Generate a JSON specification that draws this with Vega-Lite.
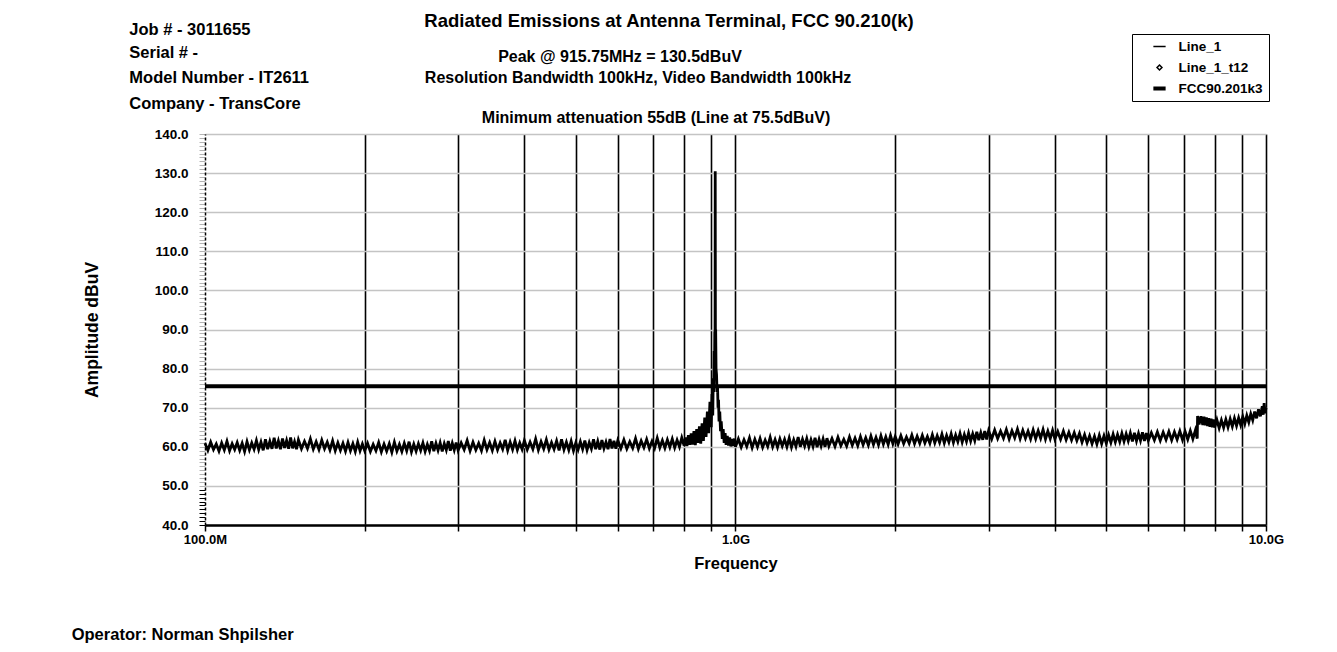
{
  "$schema": "https://vega.github.io/schema/vega-lite/v6.json",
  "width": 1061,
  "height": 391,
  "autosize": {"type": "none"},
  "padding": {"left": 205, "top": 134, "right": 71, "bottom": 127},
  "background": "white",
  "config": {"font": "Liberation Sans", "view": {"stroke": null}},
  "layer": [
    {
      "data": {"values": [
        {"MHz":100,"dBuV":60.9},{"MHz":101.25,"dBuV":59.1},{"MHz":102.5,"dBuV":61.2},{"MHz":103.75,"dBuV":59.3},{"MHz":105,"dBuV":60.7},{"MHz":106.25,"dBuV":58.9},{"MHz":107.5,"dBuV":61.0},{"MHz":108.75,"dBuV":59.2},{"MHz":110,"dBuV":61.4},{"MHz":111.25,"dBuV":59.0},
        {"MHz":112.5,"dBuV":60.8},{"MHz":113.75,"dBuV":59.3},{"MHz":115,"dBuV":61.1},{"MHz":116.25,"dBuV":59.1},{"MHz":117.5,"dBuV":60.9},{"MHz":118.75,"dBuV":58.8},{"MHz":120,"dBuV":61.3},{"MHz":121.25,"dBuV":59.2},{"MHz":122.5,"dBuV":61.0},{"MHz":123.75,"dBuV":59.4},
        {"MHz":125,"dBuV":61.6},{"MHz":126.25,"dBuV":59.3},{"MHz":127.5,"dBuV":61.2},{"MHz":128.75,"dBuV":59.1},{"MHz":130,"dBuV":61.9},{"MHz":131.25,"dBuV":59.4},{"MHz":132.5,"dBuV":61.4},{"MHz":133.75,"dBuV":59.5},{"MHz":135,"dBuV":62.3},{"MHz":136.25,"dBuV":59.6},
        {"MHz":137.5,"dBuV":61.5},{"MHz":138.75,"dBuV":59.4},{"MHz":140,"dBuV":62.1},{"MHz":141.25,"dBuV":59.7},{"MHz":142.5,"dBuV":61.6},{"MHz":143.75,"dBuV":59.5},{"MHz":145,"dBuV":62.4},{"MHz":146.25,"dBuV":59.6},{"MHz":147.5,"dBuV":61.3},{"MHz":148.75,"dBuV":59.4},
        {"MHz":150,"dBuV":61.8},{"MHz":152,"dBuV":59.5},{"MHz":154,"dBuV":61.4},{"MHz":156,"dBuV":59.6},{"MHz":158,"dBuV":62.0},{"MHz":160,"dBuV":59.4},{"MHz":162,"dBuV":61.3},{"MHz":164,"dBuV":59.3},{"MHz":166,"dBuV":61.7},{"MHz":168,"dBuV":59.5},
        {"MHz":170,"dBuV":61.2},{"MHz":172,"dBuV":59.2},{"MHz":174,"dBuV":61.5},{"MHz":176,"dBuV":59.0},{"MHz":178,"dBuV":61.0},{"MHz":180,"dBuV":59.1},{"MHz":182,"dBuV":60.9},{"MHz":184,"dBuV":58.9},{"MHz":186,"dBuV":61.1},{"MHz":188,"dBuV":59.0},
        {"MHz":190,"dBuV":60.8},{"MHz":192,"dBuV":58.8},{"MHz":194,"dBuV":61.2},{"MHz":196,"dBuV":59.0},{"MHz":198,"dBuV":60.7},
        {"MHz":200,"dBuV":59.0},{"MHz":202.5,"dBuV":60.9},{"MHz":205,"dBuV":58.8},{"MHz":207.5,"dBuV":60.6},{"MHz":210,"dBuV":59.0},{"MHz":212.5,"dBuV":61.1},{"MHz":215,"dBuV":58.7},{"MHz":217.5,"dBuV":60.7},{"MHz":220,"dBuV":58.9},{"MHz":222.5,"dBuV":60.8},
        {"MHz":225,"dBuV":58.6},{"MHz":227.5,"dBuV":61.2},{"MHz":230,"dBuV":58.9},{"MHz":232.5,"dBuV":60.6},{"MHz":235,"dBuV":58.8},{"MHz":237.5,"dBuV":60.9},{"MHz":240,"dBuV":59.0},{"MHz":242.5,"dBuV":61.3},{"MHz":245,"dBuV":58.7},{"MHz":247.5,"dBuV":60.7},
        {"MHz":250,"dBuV":58.9},{"MHz":252.5,"dBuV":60.8},{"MHz":255,"dBuV":59.1},{"MHz":257.5,"dBuV":61.0},{"MHz":260,"dBuV":58.8},{"MHz":262.5,"dBuV":60.6},{"MHz":265,"dBuV":59.0},{"MHz":267.5,"dBuV":61.4},{"MHz":270,"dBuV":58.9},{"MHz":272.5,"dBuV":60.9},
        {"MHz":275,"dBuV":59.1},{"MHz":277.5,"dBuV":61.0},{"MHz":280,"dBuV":58.8},{"MHz":282.5,"dBuV":60.8},{"MHz":285,"dBuV":59.2},{"MHz":287.5,"dBuV":61.5},{"MHz":290,"dBuV":59.0},{"MHz":292.5,"dBuV":60.9},{"MHz":295,"dBuV":59.2},{"MHz":297.5,"dBuV":61.1},
        {"MHz":300,"dBuV":59.1},{"MHz":304,"dBuV":61.0},{"MHz":308,"dBuV":59.3},{"MHz":312,"dBuV":61.6},{"MHz":316,"dBuV":59.0},{"MHz":320,"dBuV":61.2},{"MHz":324,"dBuV":59.2},{"MHz":328,"dBuV":60.9},{"MHz":332,"dBuV":59.0},{"MHz":336,"dBuV":61.7},
        {"MHz":340,"dBuV":59.3},{"MHz":344,"dBuV":61.1},{"MHz":348,"dBuV":59.1},{"MHz":352,"dBuV":61.4},{"MHz":356,"dBuV":59.2},{"MHz":360,"dBuV":61.0},{"MHz":364,"dBuV":59.4},{"MHz":368,"dBuV":61.8},{"MHz":372,"dBuV":59.1},{"MHz":376,"dBuV":61.2},
        {"MHz":380,"dBuV":59.3},{"MHz":384,"dBuV":61.5},{"MHz":388,"dBuV":59.2},{"MHz":392,"dBuV":61.0},{"MHz":396,"dBuV":59.4},
        {"MHz":400,"dBuV":61.6},{"MHz":405,"dBuV":59.3},{"MHz":410,"dBuV":61.2},{"MHz":415,"dBuV":59.4},{"MHz":420,"dBuV":62.0},{"MHz":425,"dBuV":59.2},{"MHz":430,"dBuV":61.3},{"MHz":435,"dBuV":59.5},{"MHz":440,"dBuV":61.8},{"MHz":445,"dBuV":59.3},
        {"MHz":450,"dBuV":61.1},{"MHz":455,"dBuV":59.4},{"MHz":460,"dBuV":61.5},{"MHz":465,"dBuV":59.1},{"MHz":470,"dBuV":61.9},{"MHz":475,"dBuV":59.3},{"MHz":480,"dBuV":61.2},{"MHz":485,"dBuV":59.2},{"MHz":490,"dBuV":61.4},{"MHz":495,"dBuV":59.0},
        {"MHz":500,"dBuV":61.0},{"MHz":505,"dBuV":59.3},{"MHz":510,"dBuV":61.3},{"MHz":515,"dBuV":59.4},{"MHz":520,"dBuV":61.6},{"MHz":525,"dBuV":59.2},{"MHz":530,"dBuV":61.1},{"MHz":535,"dBuV":59.5},{"MHz":540,"dBuV":61.9},{"MHz":545,"dBuV":59.4},
        {"MHz":550,"dBuV":61.4},{"MHz":555,"dBuV":59.3},{"MHz":560,"dBuV":61.7},{"MHz":565,"dBuV":59.6},{"MHz":570,"dBuV":61.2},{"MHz":575,"dBuV":59.4},{"MHz":580,"dBuV":62.0},{"MHz":585,"dBuV":59.6},{"MHz":590,"dBuV":61.5},{"MHz":595,"dBuV":59.5},
        {"MHz":600,"dBuV":61.6},{"MHz":608,"dBuV":59.6},{"MHz":616,"dBuV":61.8},{"MHz":624,"dBuV":59.5},{"MHz":632,"dBuV":61.3},{"MHz":640,"dBuV":59.7},{"MHz":648,"dBuV":62.1},{"MHz":656,"dBuV":59.5},{"MHz":664,"dBuV":61.5},{"MHz":672,"dBuV":59.8},
        {"MHz":680,"dBuV":61.9},{"MHz":688,"dBuV":59.6},{"MHz":696,"dBuV":61.4},{"MHz":704,"dBuV":59.7},{"MHz":712,"dBuV":62.2},{"MHz":720,"dBuV":59.8},{"MHz":728,"dBuV":61.6},{"MHz":736,"dBuV":59.7},{"MHz":744,"dBuV":61.8},{"MHz":752,"dBuV":59.9},
        {"MHz":760,"dBuV":62.0},{"MHz":768,"dBuV":59.8},{"MHz":776,"dBuV":61.7},{"MHz":784,"dBuV":60.0},{"MHz":792,"dBuV":62.3},
        {"MHz":800,"dBuV":60.3},{"MHz":805,"dBuV":62.4},{"MHz":810,"dBuV":60.2},{"MHz":815,"dBuV":63.0},{"MHz":820,"dBuV":60.5},{"MHz":825,"dBuV":63.4},{"MHz":830,"dBuV":60.6},{"MHz":835,"dBuV":64.0},{"MHz":840,"dBuV":60.4},{"MHz":845,"dBuV":64.5},
        {"MHz":850,"dBuV":61.0},{"MHz":855,"dBuV":65.2},{"MHz":860,"dBuV":60.8},{"MHz":865,"dBuV":66.0},{"MHz":870,"dBuV":61.5},{"MHz":875,"dBuV":67.5},{"MHz":880,"dBuV":62.5},{"MHz":885,"dBuV":69.0},{"MHz":890,"dBuV":63.5},{"MHz":895,"dBuV":71.5},
        {"MHz":900,"dBuV":65.0},{"MHz":903,"dBuV":73.5},{"MHz":906,"dBuV":68.0},{"MHz":908,"dBuV":77.5},{"MHz":910,"dBuV":74.0},{"MHz":911.5,"dBuV":84.5},{"MHz":913,"dBuV":79.0},{"MHz":914,"dBuV":89.5},{"MHz":915,"dBuV":84.0},{"MHz":915.75,"dBuV":130.5},
        {"MHz":916.5,"dBuV":86.0},{"MHz":917.5,"dBuV":90.0},{"MHz":919,"dBuV":80.0},{"MHz":921,"dBuV":78.5},{"MHz":923,"dBuV":74.0},{"MHz":925,"dBuV":75.5},{"MHz":927,"dBuV":70.0},{"MHz":929,"dBuV":72.0},{"MHz":931,"dBuV":66.5},{"MHz":934,"dBuV":69.0},
        {"MHz":937,"dBuV":64.0},{"MHz":940,"dBuV":66.5},{"MHz":944,"dBuV":62.0},{"MHz":948,"dBuV":64.5},{"MHz":952,"dBuV":61.0},{"MHz":956,"dBuV":63.5},{"MHz":960,"dBuV":60.5},{"MHz":965,"dBuV":62.8},{"MHz":970,"dBuV":60.3},{"MHz":975,"dBuV":62.4},
        {"MHz":980,"dBuV":60.1},{"MHz":985,"dBuV":62.0},{"MHz":990,"dBuV":60.2},{"MHz":995,"dBuV":62.1},
        {"MHz":1000,"dBuV":60.0},{"MHz":1012.5,"dBuV":62.0},{"MHz":1025,"dBuV":59.9},{"MHz":1037.5,"dBuV":61.8},{"MHz":1050,"dBuV":60.1},{"MHz":1062.5,"dBuV":62.3},{"MHz":1075,"dBuV":59.8},{"MHz":1087.5,"dBuV":61.9},{"MHz":1100,"dBuV":60.0},{"MHz":1112.5,"dBuV":62.1},
        {"MHz":1125,"dBuV":59.9},{"MHz":1137.5,"dBuV":61.7},{"MHz":1150,"dBuV":60.1},{"MHz":1162.5,"dBuV":62.4},{"MHz":1175,"dBuV":60.0},{"MHz":1187.5,"dBuV":61.8},{"MHz":1200,"dBuV":59.9},{"MHz":1212.5,"dBuV":62.0},{"MHz":1225,"dBuV":60.2},{"MHz":1237.5,"dBuV":61.9},
        {"MHz":1250,"dBuV":60.0},{"MHz":1262.5,"dBuV":62.2},{"MHz":1275,"dBuV":59.9},{"MHz":1287.5,"dBuV":61.8},{"MHz":1300,"dBuV":60.1},{"MHz":1312.5,"dBuV":62.5},{"MHz":1325,"dBuV":60.0},{"MHz":1337.5,"dBuV":61.9},{"MHz":1350,"dBuV":60.2},{"MHz":1362.5,"dBuV":62.1},
        {"MHz":1375,"dBuV":60.0},{"MHz":1387.5,"dBuV":61.8},{"MHz":1400,"dBuV":60.1},{"MHz":1412.5,"dBuV":62.3},{"MHz":1425,"dBuV":59.9},{"MHz":1437.5,"dBuV":61.9},{"MHz":1450,"dBuV":60.2},{"MHz":1462.5,"dBuV":62.0},{"MHz":1475,"dBuV":60.0},{"MHz":1487.5,"dBuV":62.2},
        {"MHz":1500,"dBuV":60.2},{"MHz":1520,"dBuV":62.1},{"MHz":1540,"dBuV":60.1},{"MHz":1560,"dBuV":62.4},{"MHz":1580,"dBuV":60.3},{"MHz":1600,"dBuV":61.9},{"MHz":1620,"dBuV":60.2},{"MHz":1640,"dBuV":62.5},{"MHz":1660,"dBuV":60.4},{"MHz":1680,"dBuV":62.2},
        {"MHz":1700,"dBuV":60.3},{"MHz":1720,"dBuV":62.6},{"MHz":1740,"dBuV":60.5},{"MHz":1760,"dBuV":62.3},{"MHz":1780,"dBuV":60.4},{"MHz":1800,"dBuV":62.7},{"MHz":1820,"dBuV":60.6},{"MHz":1840,"dBuV":62.4},{"MHz":1860,"dBuV":60.5},{"MHz":1880,"dBuV":62.8},
        {"MHz":1900,"dBuV":60.7},{"MHz":1920,"dBuV":62.5},{"MHz":1940,"dBuV":60.6},{"MHz":1960,"dBuV":62.9},{"MHz":1980,"dBuV":60.8},
        {"MHz":2000,"dBuV":62.6},{"MHz":2025,"dBuV":60.7},{"MHz":2050,"dBuV":62.8},{"MHz":2075,"dBuV":60.8},{"MHz":2100,"dBuV":62.5},{"MHz":2125,"dBuV":60.9},{"MHz":2150,"dBuV":63.0},{"MHz":2175,"dBuV":60.8},{"MHz":2200,"dBuV":62.7},{"MHz":2225,"dBuV":60.9},
        {"MHz":2250,"dBuV":62.9},{"MHz":2275,"dBuV":61.0},{"MHz":2300,"dBuV":62.6},{"MHz":2325,"dBuV":60.9},{"MHz":2350,"dBuV":63.1},{"MHz":2375,"dBuV":61.0},{"MHz":2400,"dBuV":62.8},{"MHz":2425,"dBuV":61.1},{"MHz":2450,"dBuV":63.2},{"MHz":2475,"dBuV":61.0},
        {"MHz":2500,"dBuV":62.9},{"MHz":2525,"dBuV":61.2},{"MHz":2550,"dBuV":63.3},{"MHz":2575,"dBuV":61.1},{"MHz":2600,"dBuV":63.0},{"MHz":2625,"dBuV":61.3},{"MHz":2650,"dBuV":63.4},{"MHz":2675,"dBuV":61.2},{"MHz":2700,"dBuV":63.1},{"MHz":2725,"dBuV":61.4},
        {"MHz":2750,"dBuV":63.5},{"MHz":2775,"dBuV":61.5},{"MHz":2800,"dBuV":63.3},{"MHz":2825,"dBuV":61.6},{"MHz":2850,"dBuV":63.8},{"MHz":2875,"dBuV":61.7},{"MHz":2900,"dBuV":63.6},{"MHz":2925,"dBuV":61.8},{"MHz":2950,"dBuV":64.0},{"MHz":2975,"dBuV":61.9},
        {"MHz":3000,"dBuV":64.1},{"MHz":3040,"dBuV":62.0},{"MHz":3080,"dBuV":64.3},{"MHz":3120,"dBuV":62.1},{"MHz":3160,"dBuV":64.0},{"MHz":3200,"dBuV":62.2},{"MHz":3240,"dBuV":64.4},{"MHz":3280,"dBuV":62.0},{"MHz":3320,"dBuV":64.1},{"MHz":3360,"dBuV":62.3},
        {"MHz":3400,"dBuV":64.5},{"MHz":3440,"dBuV":62.1},{"MHz":3480,"dBuV":64.2},{"MHz":3520,"dBuV":62.2},{"MHz":3560,"dBuV":64.0},{"MHz":3600,"dBuV":62.0},{"MHz":3640,"dBuV":64.3},{"MHz":3680,"dBuV":62.1},{"MHz":3720,"dBuV":64.1},{"MHz":3760,"dBuV":62.2},
        {"MHz":3800,"dBuV":64.4},{"MHz":3840,"dBuV":62.0},{"MHz":3880,"dBuV":64.0},{"MHz":3920,"dBuV":62.1},{"MHz":3960,"dBuV":64.2},
        {"MHz":4000,"dBuV":62.0},{"MHz":4050,"dBuV":63.9},{"MHz":4100,"dBuV":61.9},{"MHz":4150,"dBuV":64.0},{"MHz":4200,"dBuV":61.8},{"MHz":4250,"dBuV":63.7},{"MHz":4300,"dBuV":61.7},{"MHz":4350,"dBuV":63.6},{"MHz":4400,"dBuV":61.6},{"MHz":4450,"dBuV":63.4},
        {"MHz":4500,"dBuV":61.2},{"MHz":4550,"dBuV":63.1},{"MHz":4600,"dBuV":61.0},{"MHz":4650,"dBuV":62.8},{"MHz":4700,"dBuV":60.8},{"MHz":4750,"dBuV":62.7},{"MHz":4800,"dBuV":60.7},{"MHz":4850,"dBuV":62.9},{"MHz":4900,"dBuV":60.8},{"MHz":4950,"dBuV":62.8},
        {"MHz":5000,"dBuV":60.9},{"MHz":5050,"dBuV":63.0},{"MHz":5100,"dBuV":61.1},{"MHz":5150,"dBuV":63.2},{"MHz":5200,"dBuV":61.2},{"MHz":5250,"dBuV":63.1},{"MHz":5300,"dBuV":61.3},{"MHz":5350,"dBuV":63.4},{"MHz":5400,"dBuV":61.4},{"MHz":5450,"dBuV":63.3},
        {"MHz":5500,"dBuV":61.5},{"MHz":5550,"dBuV":63.5},{"MHz":5600,"dBuV":61.4},{"MHz":5650,"dBuV":63.6},{"MHz":5700,"dBuV":61.5},{"MHz":5750,"dBuV":63.4},{"MHz":5800,"dBuV":61.6},{"MHz":5850,"dBuV":63.7},{"MHz":5900,"dBuV":61.5},{"MHz":5950,"dBuV":63.5},
        {"MHz":6000,"dBuV":61.6},{"MHz":6080,"dBuV":63.6},{"MHz":6160,"dBuV":61.7},{"MHz":6240,"dBuV":63.8},{"MHz":6320,"dBuV":61.6},{"MHz":6400,"dBuV":63.7},{"MHz":6480,"dBuV":61.8},{"MHz":6560,"dBuV":63.9},{"MHz":6640,"dBuV":61.7},{"MHz":6720,"dBuV":63.8},
        {"MHz":6800,"dBuV":61.9},{"MHz":6880,"dBuV":64.0},{"MHz":6960,"dBuV":61.8},{"MHz":7040,"dBuV":63.9},{"MHz":7120,"dBuV":61.9},{"MHz":7200,"dBuV":64.1},{"MHz":7280,"dBuV":62.0},{"MHz":7360,"dBuV":64.2},{"MHz":7420,"dBuV":62.1},{"MHz":7430,"dBuV":67.9},
        {"MHz":7480,"dBuV":65.7},{"MHz":7540,"dBuV":67.8},{"MHz":7600,"dBuV":65.6},{"MHz":7640,"dBuV":67.7},{"MHz":7680,"dBuV":65.5},{"MHz":7720,"dBuV":67.5},{"MHz":7760,"dBuV":65.3},{"MHz":7800,"dBuV":67.3},{"MHz":7840,"dBuV":65.1},{"MHz":7880,"dBuV":67.2},
        {"MHz":7920,"dBuV":65.0},{"MHz":7960,"dBuV":67.0},{"MHz":8000,"dBuV":64.9},{"MHz":8080,"dBuV":66.9},{"MHz":8160,"dBuV":64.8},{"MHz":8240,"dBuV":66.8},{"MHz":8320,"dBuV":64.9},{"MHz":8400,"dBuV":67.0},{"MHz":8480,"dBuV":65.0},{"MHz":8560,"dBuV":67.1},
        {"MHz":8640,"dBuV":65.2},{"MHz":8720,"dBuV":67.3},{"MHz":8800,"dBuV":65.4},{"MHz":8880,"dBuV":67.4},{"MHz":8960,"dBuV":65.6},{"MHz":9040,"dBuV":67.7},{"MHz":9120,"dBuV":65.9},{"MHz":9200,"dBuV":68.0},{"MHz":9280,"dBuV":66.3},{"MHz":9360,"dBuV":68.4},
        {"MHz":9440,"dBuV":66.8},{"MHz":9520,"dBuV":69.0},{"MHz":9600,"dBuV":67.3},{"MHz":9680,"dBuV":69.6},{"MHz":9760,"dBuV":67.8},{"MHz":9840,"dBuV":70.4},{"MHz":9880,"dBuV":68.2},{"MHz":9920,"dBuV":71.2},{"MHz":9960,"dBuV":68.6},{"MHz":10000,"dBuV":70.0}
      ]},
      "mark": {"type": "line", "color": "black", "strokeWidth": 2.8},
      "encoding": {
        "x": {
          "field": "MHz", "type": "quantitative",
          "scale": {"type": "log", "domain": [100, 10000], "nice": false},
          "axis": {
            "title": "Frequency",
            "values": [100,200,300,400,500,600,700,800,900,1000,2000,3000,4000,5000,6000,7000,8000,9000,10000],
            "tickCount": 50,
            "labelExpr": "(datum.value == 100 || datum.value == 1000 || datum.value == 10000) ? (datum.value >= 1000 ? format(datum.value / 1000, '.1f') + 'G' : format(datum.value, '.1f') + 'M') : ''",
            "labelFont": "Liberation Sans", "labelFontWeight": "bold", "labelFontSize": 13, "labelColor": "black",
            "labelPadding": 2, "labelFlush": false, "labelOverlap": false,
            "grid": true,
            "gridColor": {"condition": {"test": "datum.value == 100", "value": "transparent"}, "value": "black"},
            "gridWidth": 1.6,
            "ticks": true, "tickColor": "black", "tickSize": 6, "tickWidth": 1.5,
            "domain": true, "domainColor": "black", "domainWidth": 2.5,
            "titleFont": "Liberation Sans", "titleFontWeight": "bold", "titleFontSize": 16.5, "titleColor": "black",
            "titleY": 38, "titleBaseline": "middle"
          }
        },
        "y": {
          "field": "dBuV", "type": "quantitative",
          "scale": {"domain": [40, 140], "nice": false, "zero": false},
          "axis": {
            "title": "Amplitude dBuV",
            "values": [40,41,42,43,44,45,46,47,48,49,50,51,52,53,54,55,56,57,58,59,60,61,62,63,64,65,66,67,68,69,70,71,72,73,74,75,76,77,78,79,80,81,82,83,84,85,86,87,88,89,90,91,92,93,94,95,96,97,98,99,100,101,102,103,104,105,106,107,108,109,110,111,112,113,114,115,116,117,118,119,120,121,122,123,124,125,126,127,128,129,130,131,132,133,134,135,136,137,138,139,140],
            "tickCount": 200,
            "labelExpr": "datum.value % 10 == 0 ? format(datum.value, '.1f') : ''",
            "labelFont": "Liberation Sans", "labelFontWeight": "bold", "labelFontSize": 13.5, "labelColor": "black",
            "labelPadding": 11, "labelOverlap": false, "labelFlush": false,
            "grid": true,
            "gridColor": {"condition": {"test": "datum.value % 10 == 0", "value": "#c4c4c4"}, "value": "transparent"},
            "gridWidth": 1.5,
            "ticks": true,
            "tickColor": {"condition": {"test": "datum.value < 50", "value": "black"}, "value": "#b4b4b4"},
            "tickSize": 6, "tickWidth": 1,
            "domain": true, "domainColor": "black", "domainWidth": 1.5, "domainDash": [3, 2],
            "titleFont": "Liberation Sans", "titleFontWeight": "bold", "titleFontSize": 17.5, "titleColor": "black",
            "titleX": -113, "titleY": 195.5, "titleBaseline": "middle", "titleAlign": "center"
          }
        }
      }
    },
    {
      "data": {"values": [{"series": "FCC90.201k3", "dBuV": 75.5}]},
      "mark": {"type": "rule", "color": "black", "strokeWidth": 4},
      "encoding": {"y": {"field": "dBuV", "type": "quantitative"}}
    },
    {
      "data": {"values": [{"series": "Line_1_t12", "MHz": 915.75, "dBuV": 130.5}]},
      "mark": {"type": "point", "color": "black", "opacity": 0, "filled": false},
      "encoding": {
        "x": {"field": "MHz", "type": "quantitative"},
        "y": {"field": "dBuV", "type": "quantitative"},
        "shape": {
          "field": "series", "type": "nominal",
          "scale": {
            "domain": ["Line_1", "Line_1_t12", "FCC90.201k3"],
            "range": ["M-1,0L1,0", "M0,-0.4L0.4,0L0,0.4L-0.4,0Z", "M-1,-0.22L1,-0.22M-1,-0.07L1,-0.07M-1,0.07L1,0.07M-1,0.22L1,0.22"]
          },
          "legend": {
            "title": null, "orient": "none", "legendX": 927, "legendY": -100,
            "strokeColor": "black", "fillColor": "white", "padding": 5.5,
            "symbolSize": 150, "symbolStrokeWidth": 1.5, "symbolStrokeColor": "black", "symbolOpacity": 1,
            "symbolOffset": 15, "labelOffset": 12, "rowPadding": 7,
            "labelFont": "Liberation Sans", "labelFontWeight": "bold", "labelFontSize": 13.5, "labelColor": "black",
            "encode": {"symbols": {"update": {"opacity": {"value": 1}}}}
          }
        }
      }
    },
    {
      "data": {"values": [{}]},
      "mark": {"type": "text", "text": "Radiated Emissions at Antenna Terminal, FCC 90.210(k)", "align": "center", "baseline": "alphabetic", "font": "Liberation Sans", "fontWeight": "bold", "fontSize": 18.5, "color": "black"},
      "encoding": {"x": {"datum": 749.4}, "y": {"datum": 167.4}}
    },
    {
      "data": {"values": [{}]},
      "mark": {"type": "text", "text": "Peak @ 915.75MHz = 130.5dBuV", "align": "center", "baseline": "alphabetic", "font": "Liberation Sans", "fontWeight": "bold", "fontSize": 16, "color": "black"},
      "encoding": {"x": {"datum": 605.7}, "y": {"datum": 158.3}}
    },
    {
      "data": {"values": [{}]},
      "mark": {"type": "text", "text": "Resolution Bandwidth 100kHz, Video Bandwidth 100kHz", "align": "center", "baseline": "alphabetic", "font": "Liberation Sans", "fontWeight": "bold", "fontSize": 16, "color": "black"},
      "encoding": {"x": {"datum": 655.1}, "y": {"datum": 153.1}}
    },
    {
      "data": {"values": [{}]},
      "mark": {"type": "text", "text": "Minimum attenuation 55dB (Line at 75.5dBuV)", "align": "center", "baseline": "alphabetic", "font": "Liberation Sans", "fontWeight": "bold", "fontSize": 16, "color": "black"},
      "encoding": {"x": {"datum": 708.3}, "y": {"datum": 142.9}}
    },
    {
      "data": {"values": [{}]},
      "mark": {"type": "text", "text": "Job # - 3011655", "align": "left", "baseline": "alphabetic", "font": "Liberation Sans", "fontWeight": "bold", "fontSize": 16.5, "color": "black"},
      "encoding": {"x": {"datum": 72.0}, "y": {"datum": 165.3}}
    },
    {
      "data": {"values": [{}]},
      "mark": {"type": "text", "text": "Serial # -", "align": "left", "baseline": "alphabetic", "font": "Liberation Sans", "fontWeight": "bold", "fontSize": 16.5, "color": "black"},
      "encoding": {"x": {"datum": 72.0}, "y": {"datum": 159.4}}
    },
    {
      "data": {"values": [{}]},
      "mark": {"type": "text", "text": "Model Number - IT2611", "align": "left", "baseline": "alphabetic", "font": "Liberation Sans", "fontWeight": "bold", "fontSize": 16.5, "color": "black"},
      "encoding": {"x": {"datum": 72.0}, "y": {"datum": 153.0}}
    },
    {
      "data": {"values": [{}]},
      "mark": {"type": "text", "text": "Company - TransCore", "align": "left", "baseline": "alphabetic", "font": "Liberation Sans", "fontWeight": "bold", "fontSize": 16.5, "color": "black"},
      "encoding": {"x": {"datum": 72.0}, "y": {"datum": 146.5}}
    },
    {
      "data": {"values": [{}]},
      "mark": {"type": "text", "text": "Operator: Norman Shpilsher", "align": "left", "baseline": "alphabetic", "font": "Liberation Sans", "fontWeight": "bold", "fontSize": 16.5, "color": "black"},
      "encoding": {"x": {"datum": 56.07}, "y": {"datum": 10.6}}
    }
  ]
}
